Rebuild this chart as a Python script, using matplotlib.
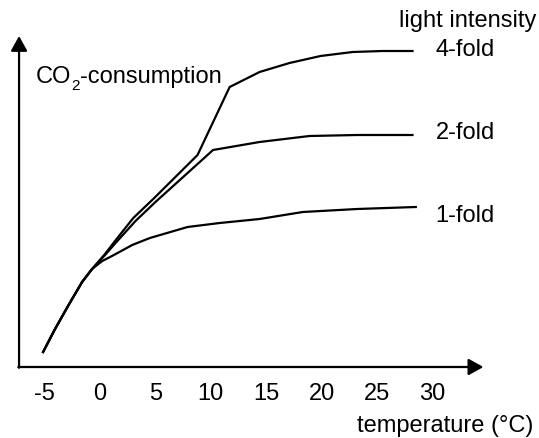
import matplotlib.pyplot as plt
import matplotlib.transforms as mtransforms

plt.rcParams['font.family'] = ['Liberation Sans', 'DejaVu Sans']

# temperature (deg C) and relative CO2 consumption for each light intensity
temp_4 = [-5.14, -4.06, -2.89, -1.62, -0.72, 0.45, 1.35, 3.0, 4.8, 8.8, 11.7, 14.4, 17.1, 19.9, 22.8, 25.5, 28.2]
co2_4 = [1.5, 3.8, 6.1, 8.5, 9.8, 11.3, 12.6, 14.9, 16.8, 21.2, 28.0, 29.5, 30.4, 31.1, 31.5, 31.6, 31.6]

temp_2 = [-5.14, -4.06, -2.89, -1.62, -0.72, 0.45, 1.4, 3.2, 5.0, 10.2, 14.4, 18.9, 23.2, 28.2]
co2_2 = [1.5, 3.8, 6.1, 8.5, 9.8, 11.2, 12.4, 14.6, 16.5, 21.7, 22.5, 23.1, 23.2, 23.2]

temp_1 = [-5.14, -4.06, -2.89, -1.62, -0.72, 0.2, 1.08, 2.08, 2.9, 4.5, 7.9, 10.8, 14.4, 18.3, 23.2, 28.5]
co2_1 = [1.5, 3.8, 6.1, 8.5, 9.8, 10.6, 11.1, 11.7, 12.2, 12.9, 14.0, 14.4, 14.8, 15.5, 15.8, 16.0]

tick_values = [-5, 0, 5, 10, 15, 20, 25, 30]
curve_labels = ['4-fold', '2-fold', '1-fold']

FS = 17

fig = plt.figure(figsize=(5.39, 4.39), dpi=100)
ax = fig.add_axes([0, 0, 1, 1])
ax.set_xlim(-9.03, 39.62)
ax.set_ylim(-7.1, 36.8)
ax.axis('off')

for t, c in [(temp_4, co2_4), (temp_2, co2_2), (temp_1, co2_1)]:
    ax.plot(t, c, color='black', lw=1.6)

# axes drawn as arrows
x0, y0 = -7.31, 0.0
arrow = dict(arrowstyle='-|>,head_length=0.45,head_width=0.25', color='black',
             lw=1.6, mutation_scale=20, shrinkA=0, shrinkB=0)
ax.annotate('', xy=(x0, 33.1), xytext=(x0, y0 - 0.08), arrowprops=arrow)
ax.annotate('', xy=(34.6, y0), xytext=(x0 - 0.07, y0), arrowprops=arrow)

for v in tick_values:
    ax.text(v, -3.2, str(v), ha='center', va='baseline', fontsize=FS)

ax.text(39.08, -6.4, 'temperature (°C)', ha='right', va='baseline', fontsize=FS)
ax.text(26.99, 34.1, 'light intensity', ha='left', va='baseline', fontsize=FS)
for lab, y in zip(curve_labels, [31.2, 22.9, 14.6]):
    ax.text(30.3, y, lab, ha='left', va='baseline', fontsize=FS)

# CO2-consumption with a small lowered subscript
renderer = fig.canvas.get_renderer()
t_co = ax.text(-5.78, 28.5, 'CO', ha='left', va='baseline', fontsize=FS)
w_co = t_co.get_window_extent(renderer).width * 72 / fig.dpi
sub_x = w_co + 0.1
tr_sub = mtransforms.offset_copy(ax.transData, fig=fig, x=sub_x, y=-5.0, units='points')
t_sub = ax.text(-5.78, 28.5, '2', ha='left', va='baseline', fontsize=11, transform=tr_sub)
w_sub = t_sub.get_window_extent(renderer).width * 72 / fig.dpi
tr_rest = mtransforms.offset_copy(ax.transData, fig=fig, x=sub_x + w_sub + 0.1, y=0, units='points')
ax.text(-5.78, 28.5, '-consumption', ha='left', va='baseline', fontsize=FS, transform=tr_rest)

fig.savefig('out.png', dpi=100)
